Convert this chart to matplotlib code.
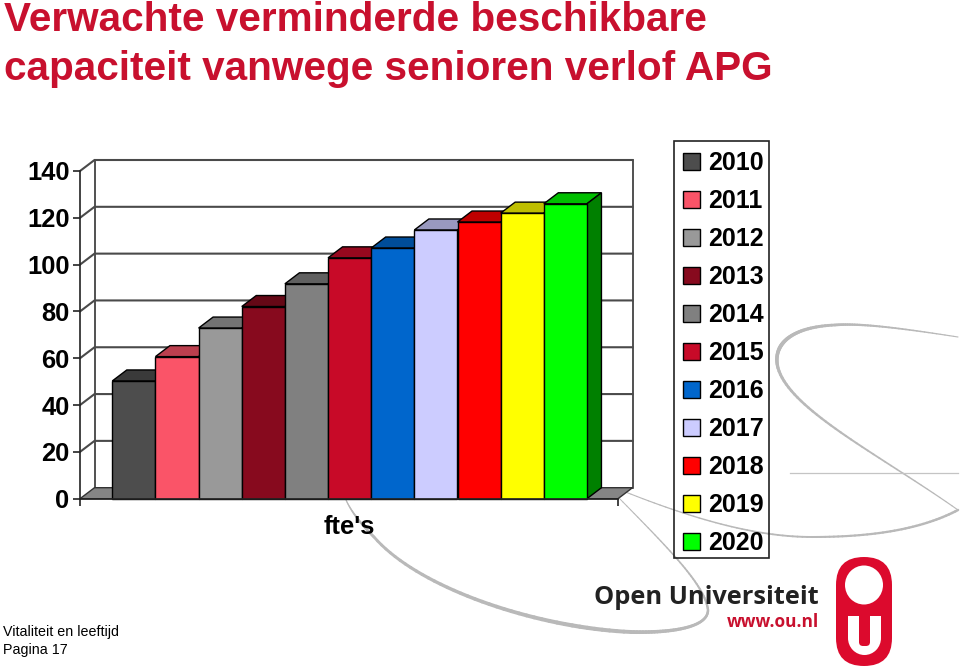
import numpy as np
import matplotlib
matplotlib.use("Agg")
import matplotlib.pyplot as plt
from matplotlib.patches import Polygon, Rectangle, Ellipse, FancyBboxPatch
from matplotlib.collections import LineCollection
from matplotlib.colors import to_rgb

plt.rcParams['font.family'] = ['Liberation Sans', 'DejaVu Sans']

# ---- data ----
years = ['2010', '2011', '2012', '2013', '2014', '2015', '2016', '2017', '2018', '2019', '2020']
fte = [50.3, 60.7, 72.9, 82.1, 91.8, 102.9, 107.1, 114.8, 118.2, 122.0, 126.0]
colors = ['#4d4d4d', '#fa5468', '#999999', '#870a1e', '#808080', '#c80a28',
          '#0066cc', '#ccccff', '#ff0000', '#ffff00', '#00ff00']
yticks = [0, 20, 40, 60, 80, 100, 120, 140]
title_lines = ['Verwachte verminderde beschikbare', 'capaciteit vanwege senioren verlof APG']
x_label = "fte's"
footer = ['Vitaliteit en leeftijd', 'Pagina 17']
TITLE_RED = '#c8102e'
W, H = 960, 668

fig = plt.figure(figsize=(W / 100, H / 100), dpi=100, facecolor='white')

# ---- decoration layer, in pixel coordinates ----
bg = fig.add_axes([0, 0, 1, 1], zorder=0)
bg.set_xlim(0, W); bg.set_ylim(H, 0); bg.axis('off')


def swoosh(verts, w0, w1, w2, col='#b9b9b9', ax=bg, z=1):
    v = np.array(verts, float)
    pts = []
    t = np.linspace(0, 1, 40)[:, None]
    for k in range(0, len(v) - 1, 3):
        p0, p1, p2, p3 = v[k:k + 4]
        pts.append((1 - t) ** 3 * p0 + 3 * (1 - t) ** 2 * t * p1 + 3 * (1 - t) * t ** 2 * p2 + t ** 3 * p3)
    pts = np.vstack(pts)
    segs = np.stack([pts[:-1], pts[1:]], axis=1)
    s = np.linspace(0, 1, len(segs))
    lw = np.interp(s, [0, 0.55, 1], [w0, w1, w2])
    ax.add_collection(LineCollection(segs, linewidths=lw, colors=col, capstyle='round', zorder=z))


swoosh([(958, 337), (900, 328), (860, 323), (835, 325),
        (790, 327), (772, 345), (778, 368),
        (790, 410), (880, 455), (958, 510)], 0.8, 2.8, 0.8)
swoosh([(601, 482), (680, 515), (750, 537), (812, 537),
        (870, 537), (920, 530), (958, 510)], 0.7, 1.5, 1.8)
swoosh([(619, 498), (670, 550), (705, 585), (708, 610),
        (708, 628), (670, 633), (631, 632),
        (540, 628), (420, 590), (374, 537),
        (362, 525), (352, 513), (346, 500)], 0.7, 3.0, 0.8)
bg.plot([790, 958], [473, 473], color='#c4c4c4', lw=0.9, zorder=1)

# OU logo
RED = '#dc0a2d'
bg.add_patch(FancyBboxPatch((836 + 24, 557 + 24), 56 - 48, 109 - 48,
                            boxstyle='round,pad=24,rounding_size=28', fc=RED, ec='none', zorder=2))
bg.add_patch(Ellipse((864, 585), 38, 39, fc='white', ec='none', zorder=3))
bg.add_patch(Rectangle((848, 616), 33, 22, fc='white', ec='none', zorder=3))
bg.add_patch(Ellipse((864.5, 638), 33, 34, fc='white', ec='none', zorder=3))
bg.add_patch(FancyBboxPatch((860, 612), 9, 33, boxstyle='round,pad=1,rounding_size=4', fc=RED, ec='none', zorder=4))
bg.text(819, 598, 'Open Universiteit', ha='right', va='center', fontsize=18.3,
        family=['Open Sans', 'DejaVu Sans'], weight='bold', color='#222222', zorder=5)
bg.text(819, 622, 'www.ou.nl', ha='right', va='center', fontsize=12.4,
        family=['Open Sans', 'DejaVu Sans'], weight='bold', color='#c8102e', zorder=5)

# title and footer
for txt, y in zip(title_lines, [31, 80]):
    bg.text(4, y, txt, ha='left', va='baseline', fontsize=29.2, weight='bold', color=TITLE_RED, zorder=5)
for txt, y in zip(footer, [632, 650]):
    bg.text(3, y, txt, ha='left', va='center', fontsize=10.3, color='black', zorder=5)

# legend frame (transparent, the swoosh shows through)
bg.add_patch(Rectangle((674, 141), 95, 417, fc='none', ec='#222222', lw=1.2, zorder=6))

# ---- chart ----
PX_L, PX_R, PX_0, PX_140 = 80, 618, 498.7, 171
ax = fig.add_axes([PX_L / W, 1 - PX_0 / H, (PX_R - PX_L) / W, (PX_0 - PX_140) / H], zorder=2)
ax.patch.set_alpha(0)
BAR_PX = 43.15
x_left = -0.5 - (112.3 - PX_L) / BAR_PX
x_right = x_left + (PX_R - PX_L) / BAR_PX
ax.set_xlim(x_left, x_right)
ax.set_ylim(0, 140)
DX = 14.5 / BAR_PX
DY = 11 / ((PX_0 - PX_140) / 140)

EDGE = '#4a4a4a'
# back wall
ax.add_patch(Rectangle((x_left + DX, DY), x_right - x_left, 140, fc='white', ec='none', clip_on=False, zorder=1))
ax.add_patch(Rectangle((x_left + DX, DY), x_right - x_left, 140, fc='none', ec='#333333', lw=1.2, clip_on=False, zorder=2))
# floor
ax.add_patch(Polygon([(x_left, 0), (x_right, 0), (x_right + DX, DY), (x_left + DX, DY)],
                     fc='#858585', ec='#333333', lw=1, clip_on=False, zorder=2))
# grid on wall and side wall
for v in yticks[1:]:
    ax.plot([x_left, x_left + DX, x_right + DX], [v, v + DY, v + DY], color=EDGE, lw=1.5,
            clip_on=False, zorder=3, solid_joinstyle='miter')

# bars
z = 4
for i, (v, c) in enumerate(zip(fte, colors)):
    rgb = np.array(to_rgb(c))
    x0, x1 = i - 0.5, i + 0.5
    ax.add_patch(Polygon([(x0, v), (x1, v), (x1 + DX, v + DY), (x0 + DX, v + DY)],
                         fc=rgb * 0.75, ec='black', lw=1, clip_on=False, zorder=z))
    ax.add_patch(Polygon([(x1, 0), (x1 + DX, DY), (x1 + DX, v + DY), (x1, v)],
                         fc=rgb * 0.5, ec='black', lw=1, clip_on=False, zorder=z))
    ax.bar(i, v, width=1, color=c, edgecolor='black', lw=1, zorder=z + 0.5,
           clip_on=False, label=years[i])
    z += 1

for s in ['top', 'right']:
    ax.spines[s].set_visible(False)
for s in ['left', 'bottom']:
    ax.spines[s].set_linewidth(1.2)
    ax.spines[s].set_color('#222222')
    ax.spines[s].set_zorder(30)
ax.set_yticks(yticks)
ax.set_yticklabels([str(v) for v in yticks], fontsize=18.4, fontweight='bold')
ax.set_xticks([x_left, x_right])
ax.set_xticklabels(['', ''])
ax.tick_params(axis='both', length=5, width=1.2, color='#222222', pad=2.5)
ax.set_xlabel(x_label, fontsize=18.4, fontweight='bold', labelpad=4)

# legend
leg = ax.legend(loc='upper left', bbox_to_anchor=(683 / W, 1 - 151.5 / H),
                bbox_transform=fig.transFigure, ncol=1, frameon=False,
                borderaxespad=0, borderpad=0, labelspacing=0.56, handlelength=0.68,
                handleheight=0.68, handletextpad=0.32, prop={'size': 18, 'weight': 'bold'})
leg.set_zorder(40)

fig.savefig('out.png', dpi=100)
